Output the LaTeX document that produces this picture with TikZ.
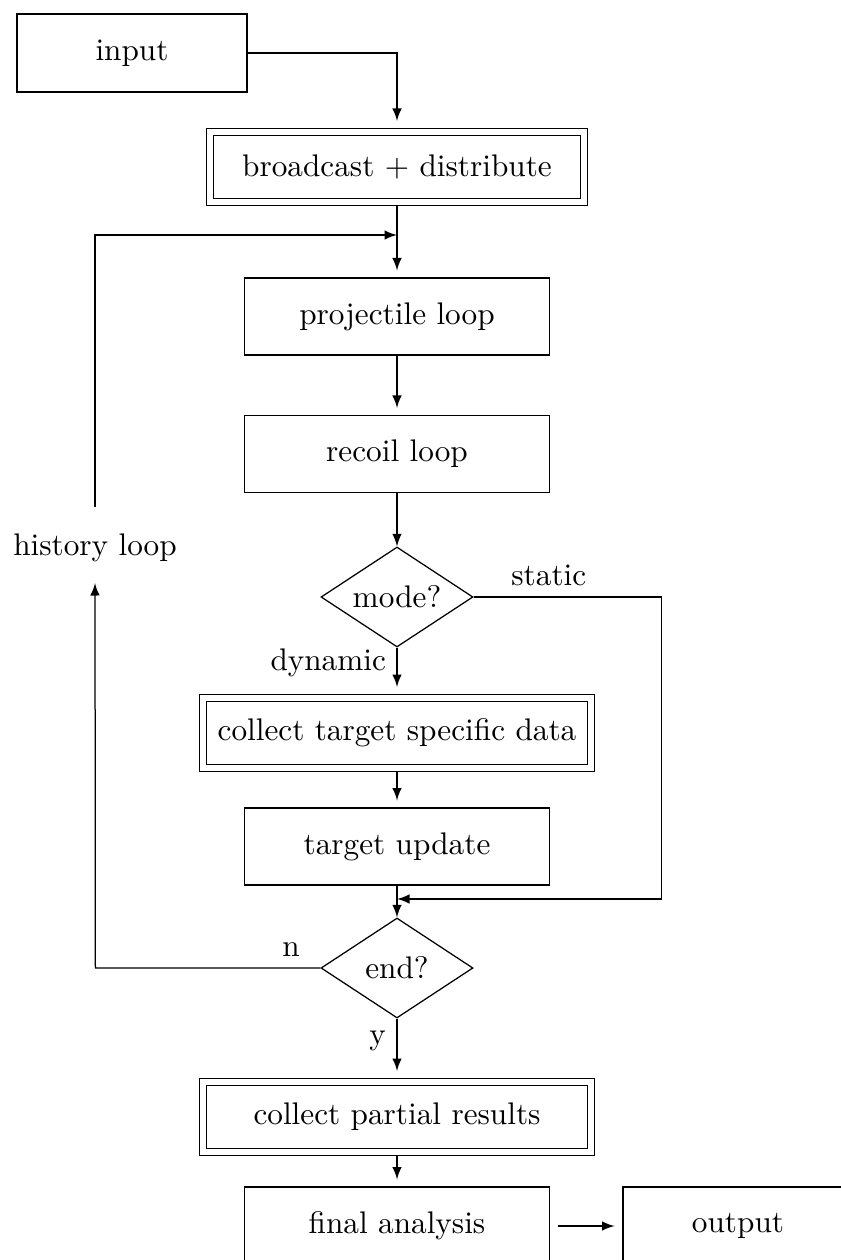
\documentclass[tikz,border=0pt]{standalone}
\usetikzlibrary{shapes.geometric,arrows}
\begin{document}
\begin{tikzpicture}[x=0.32pt,y=-0.32pt,>=latex,
  box/.style={draw, minimum width={305*0.32pt}, minimum height={77*0.32pt}, inner sep=0pt},
  iobox/.style={box, minimum width={230*0.32pt}, minimum height={78*0.32pt}},
  dbox/.style={draw, double, double distance=1.84pt, outer sep=1.32pt, inner sep=0pt,
    minimum height={70*0.32pt}},
  decision/.style={draw, diamond, aspect=1.52, inner sep=0pt,
    minimum width={152*0.32pt}, minimum height={100*0.32pt}},
  flow/.style={->},
  gap/.style={->, shorten >=2.2pt}]
\useasboundingbox (0,0) rectangle (840,1260);

% process steps
\node[iobox] (input) at (132,53) {input};
\node[dbox, minimum width={374*0.32pt}] (bcast) at (397,167) {broadcast + distribute};
\node[box] (proj) at (397,316.5) {projectile loop};
\node[box] (recoil) at (397,454) {recoil loop};
\node[decision] (mode) at (397,597) {mode?};
\node[dbox, minimum width={388*0.32pt}] (collect) at (397,733) {collect target specific data};
\node[box] (update) at (397,846.5) {target update};
\node[decision] (end) at (397,968) {end?};
\node[dbox, minimum width={388*0.32pt}] (partial) at (397,1117) {collect partial results};
\node[box, minimum height={78*0.32pt}] (final) at (397,1226) {final analysis};
\node[iobox] (output) at (738,1226) {output};
\node (hist) at (95,548) {history loop};

% junction points
\coordinate (join) at (397,235);
\coordinate (merge) at (397,899);
\coordinate (histtop) at (95,507);
\coordinate (histbot) at (95,583);

% connectors
\draw[gap] (input.east) -| (bcast.north);
\draw[gap] (bcast.south) -- (proj.north);
\draw[flow] (histtop) |- (join);
\draw[gap] (proj.south) -- (recoil.north);
\draw[flow] (recoil.south) -- (mode.north);
\draw[gap] (mode.south) -- node[left, pos=0.32] {dynamic} (collect.north);
\draw[flow] (mode.east) -- node[above, pos=0.4] {static} ++(188,0) |- (merge);
\draw[gap] (collect.south) -- (update.north);
\draw[flow] (update.south) -- (end.north);
\draw[flow] (end.west) -- node[above, pos=0.13] {n} ++(-225,0) -- (histbot);
\draw[gap] (end.south) -- node[left, pos=0.37] {y} (partial.north);
\draw[gap] (partial.south) -- (final.north);
\draw[->, shorten <=2.5pt, shorten >=2.5pt] (final.east) -- (output.west);
\end{tikzpicture}
\end{document}
